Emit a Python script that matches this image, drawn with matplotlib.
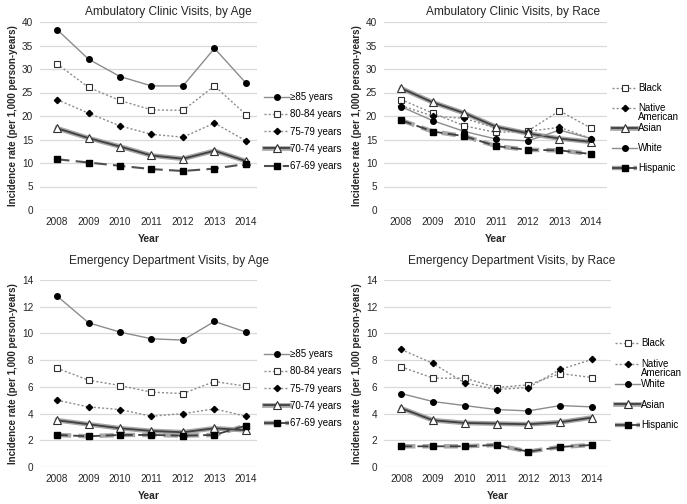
import matplotlib
matplotlib.use("Agg")
import matplotlib.pyplot as plt
from matplotlib.legend_handler import HandlerTuple

plt.rcParams['font.family'] = ['Liberation Sans', 'DejaVu Sans']

years = ['2008', '2009', '2010', '2011', '2012', '2013', '2014']

# Ambulatory clinic visits, by age
amb_age_labels = ['\u226585 years', '80-84 years', '75-79 years', '70-74 years', '67-69 years']
amb_ge85 = [38.4, 32.1, 28.4, 26.4, 26.4, 34.4, 27.0]
amb_80_84 = [31.1, 26.1, 23.3, 21.3, 21.2, 26.4, 20.3]
amb_75_79 = [23.5, 20.6, 17.9, 16.1, 15.5, 18.5, 14.7]
amb_70_74 = [17.4, 15.3, 13.5, 11.6, 10.9, 12.6, 10.4]
amb_67_69 = [10.8, 10.1, 9.4, 8.7, 8.3, 8.8, 9.8]

# Ambulatory clinic visits, by race
amb_race_labels = ['Black', 'Native American', 'Asian', 'White', 'Hispanic']
amb_black = [23.5, 20.6, 17.9, 16.5, 16.8, 21.1, 17.4]
amb_native = [22.2, 20.0, 19.5, 17.4, 16.7, 17.6, 15.2]
amb_asian = [25.9, 22.9, 20.6, 17.7, 16.3, 15.2, 14.5]
amb_white = [22.0, 19.0, 16.7, 15.1, 14.7, 17.0, 15.2]
amb_hisp = [19.1, 16.7, 15.7, 13.6, 12.8, 12.7, 11.9]

# Emergency department visits, by age
ed_ge85 = [12.8, 10.8, 10.1, 9.6, 9.5, 10.9, 10.1]
ed_80_84 = [7.4, 6.5, 6.1, 5.6, 5.5, 6.4, 6.05]
ed_75_79 = [5.0, 4.5, 4.3, 3.8, 4.0, 4.35, 3.8]
ed_70_74 = [3.5, 3.2, 2.9, 2.7, 2.6, 2.9, 2.75]
ed_67_69 = [2.4, 2.3, 2.4, 2.4, 2.35, 2.4, 3.1]

# Emergency department visits, by race
ed_race_labels = ['Black', 'Native American', 'White', 'Asian', 'Hispanic']
ed_black = [7.5, 6.65, 6.65, 5.95, 6.15, 7.0, 6.7]
ed_native = [8.8, 7.75, 6.3, 5.8, 5.95, 7.3, 8.05]
ed_white = [5.5, 4.9, 4.6, 4.3, 4.2, 4.6, 4.5]
ed_asian = [4.4, 3.5, 3.3, 3.25, 3.2, 3.35, 3.7]
ed_hisp = [1.55, 1.55, 1.55, 1.65, 1.15, 1.5, 1.65]

GRAY = '#8c8c8c'
DARK = '#404040'

styles = {
    'solid_circle': dict(color=GRAY, lw=1.0, ls='-', marker='o', ms=4, mfc='black', mec='black'),
    'dot_square': dict(color=GRAY, lw=1.0, ls=(0, (1.5, 1.5)), marker='s', ms=5, mfc='white', mec='#303030', mew=0.8),
    'dot_diamond': dict(color=GRAY, lw=1.0, ls=(0, (1.5, 1.5)), marker='D', ms=3.2, mfc='black', mec='black'),
    'thick_triangle': dict(color=DARK, lw=1.3, ls='-', marker='^', ms=6, mfc='white', mec='#303030', mew=0.8),
    'dash_square': dict(color='#505050', lw=1.5, ls=(0, (6, 3)), marker='s', ms=4.2, mfc='black', mec='black'),
    'thick_dash_square': dict(color=DARK, lw=1.3, ls=(0, (6, 3)), marker='s', ms=4.2, mfc='black', mec='black'),
}
underlay = {
    'thick_triangle': dict(color='#a6a6a6', lw=3.4, ls='-'),
    'thick_dash_square': dict(color='#a6a6a6', lw=3.2, ls=(0, (3.2, 1.6))),
}

fig = plt.figure(figsize=(6.87, 5.04), dpi=100)

W, H = 687.0, 504.0

def make_ax(left, right, top, bottom):
    return fig.add_axes([left / W, (H - bottom) / H, (right - left) / W, (bottom - top) / H])

# legs: list of (x, top_y, first_index, last_index_exclusive, labelspacing)
panels = [
    dict(rect=(40, 257, 22, 210), xlim=(-0.54, 6.35), ylim=(0, 40), yticks=range(0, 41, 5),
         title='Ambulatory Clinic Visits, by Age', tx=168, ty=12,
         series=[(amb_ge85, amb_age_labels[0], 'solid_circle'),
                 (amb_80_84, amb_age_labels[1], 'dot_square'),
                 (amb_75_79, amb_age_labels[2], 'dot_diamond'),
                 (amb_70_74, amb_age_labels[3], 'thick_triangle'),
                 (amb_67_69, amb_age_labels[4], 'dash_square')],
         legs=[(264, 92, 0, 5, 0.75)]),
    dict(rect=(384, 607, 22, 210), xlim=(-0.54, 6.5), ylim=(0, 40), yticks=range(0, 41, 5),
         title='Ambulatory Clinic Visits, by Race', tx=513, ty=12,
         series=[(amb_black, amb_race_labels[0], 'dot_square'),
                 (amb_native, amb_race_labels[1], 'dot_diamond'),
                 (amb_asian, amb_race_labels[2], 'thick_triangle'),
                 (amb_white, amb_race_labels[3], 'solid_circle'),
                 (amb_hisp, amb_race_labels[4], 'thick_dash_square')],
         legs=[(612, 83, 0, 2, 1.06), (612, 123, 2, 5, 1.03)]),
    dict(rect=(40, 257, 280, 467), xlim=(-0.54, 6.35), ylim=(0, 14), yticks=range(0, 15, 2),
         title='Emergency Department Visits, by Age', tx=169, ty=261,
         series=[(ed_ge85, amb_age_labels[0], 'solid_circle'),
                 (ed_80_84, amb_age_labels[1], 'dot_square'),
                 (ed_75_79, amb_age_labels[2], 'dot_diamond'),
                 (ed_70_74, amb_age_labels[3], 'thick_triangle'),
                 (ed_67_69, amb_age_labels[4], 'thick_dash_square')],
         legs=[(264, 349, 0, 5, 0.75)]),
    dict(rect=(384, 611, 280, 467), xlim=(-0.54, 6.6), ylim=(0, 14), yticks=range(0, 15, 2),
         title='Emergency Department Visits, by Race', tx=512, ty=261,
         series=[(ed_black, ed_race_labels[0], 'dot_square'),
                 (ed_native, ed_race_labels[1], 'dot_diamond'),
                 (ed_white, ed_race_labels[2], 'solid_circle'),
                 (ed_asian, ed_race_labels[3], 'thick_triangle'),
                 (ed_hisp, ed_race_labels[4], 'thick_dash_square')],
         legs=[(615, 338, 0, 2, 1.16), (615, 379, 2, 5, 1.1)]),
]

legends = []
for p in panels:
    l, r, t, b = p['rect']
    ax = make_ax(l, r, t, b)
    x = list(range(len(years)))
    handles = []
    labels = []
    for vals, lab, st in p['series']:
        if st in underlay:
            u, = ax.plot(x, vals, **underlay[st], zorder=2.5)
            h, = ax.plot(x, vals, **styles[st], zorder=3)
            handles.append((u, h))
        else:
            h, = ax.plot(x, vals, **styles[st], zorder=3)
            handles.append(h)
        # long label wraps: first word on the legend row, rest placed beneath
        labels.append(lab.split(' ')[0] if lab.startswith('Native') else lab)
    ax.set_xlim(*p['xlim'])
    ax.set_ylim(*p['ylim'])
    ax.set_yticks(list(p['yticks']))
    ax.set_xticks(x)
    ax.set_xticklabels(years)
    ax.grid(axis='y', color='#d9d9d9', lw=0.9)
    ax.set_axisbelow(True)
    for s in ax.spines.values():
        s.set_visible(False)
    ax.tick_params(length=0, labelsize=7.2, colors='#262626', pad=5)
    ax.set_xlabel('Year', fontsize=7.5, fontweight='bold', labelpad=5, color='#262626')
    ax.set_ylabel('Incidence rate (per 1,000 person-years)', fontsize=7, fontweight='bold',
                  labelpad=3, color='#262626')
    fig.text(p['tx'] / W, 1 - p['ty'] / H, p['title'], ha='center', va='center',
             fontsize=8.6, color='#262626')
    for lx, ly, i0, i1, ls in p['legs']:
        leg = fig.legend(handles=handles[i0:i1], labels=labels[i0:i1], loc='upper left',
                         bbox_to_anchor=(lx / W, 1 - ly / H),
                         frameon=False, fontsize=7, handlelength=2.6, handletextpad=0.1,
                         labelspacing=ls, borderpad=0, borderaxespad=0,
                         handler_map={tuple: HandlerTuple(ndivide=1)})
        legends.append(leg)

fig.canvas.draw()
inv = fig.transFigure.inverted()
for leg in legends:
    for txt in leg.get_texts():
        if txt.get_text() == 'Native':
            bb = txt.get_window_extent()
            x0, yc = inv.transform((bb.x0, (bb.y0 + bb.y1) / 2))
            fig.text(x0, yc - 9.0 / H, 'American', ha='left', va='center', fontsize=7,
                     color=txt.get_color())

fig.savefig('out.png', dpi=100)
